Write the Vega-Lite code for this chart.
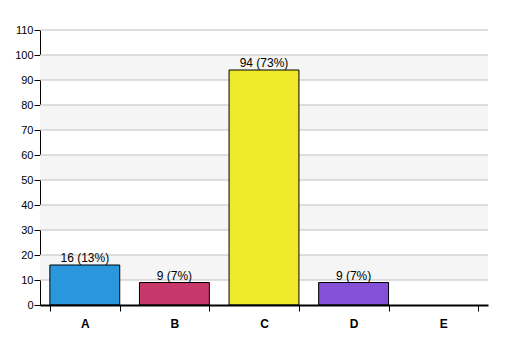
{
  "$schema": "https://vega.github.io/schema/vega-lite/v6.json",
  "width": 448,
  "height": 275,
  "autosize": "none",
  "padding": {"left": 40, "top": 30, "right": 19, "bottom": 51},
  "background": "white",
  "config": {
    "view": {"stroke": null},
    "font": "Liberation Sans"
  },
  "datasets": {
    "bars": [
      {"cat": "A", "value": 16, "label": "16 (13%)"},
      {"cat": "B", "value": 9, "label": "9 (7%)"},
      {"cat": "C", "value": 94, "label": "94 (73%)"},
      {"cat": "D", "value": 9, "label": "9 (7%)"},
      {"cat": "E", "value": 0, "label": ""}
    ],
    "stripes": [
      {"lo": 10, "hi": 20},
      {"lo": 30, "hi": 40},
      {"lo": 50, "hi": 60},
      {"lo": 70, "hi": 80},
      {"lo": 90, "hi": 100}
    ],
    "grid": [
      {"v": 10}, {"v": 20}, {"v": 30}, {"v": 40}, {"v": 50}, {"v": 60},
      {"v": 70}, {"v": 80}, {"v": 90}, {"v": 100}, {"v": 110}
    ]
  },
  "resolve": {"scale": {"y": "independent"}, "axis": {"y": "independent"}},
  "layer": [
    {
      "data": {"name": "stripes"},
      "mark": {"type": "rect", "color": "#f5f5f5"},
      "encoding": {
        "y": {
          "field": "lo", "type": "quantitative",
          "scale": {"domain": [0, 110], "nice": false},
          "axis": null
        },
        "y2": {"field": "hi"}
      }
    },
    {
      "data": {"name": "grid"},
      "mark": {"type": "rule", "color": "#c0c0c0", "strokeWidth": 1},
      "encoding": {
        "y": {
          "field": "v", "type": "ordinal",
          "scale": {"type": "point", "domain": [110,100,90,80,70,60,50,40,30,20,10,0], "padding": 0},
          "axis": {
            "orient": "left", "title": null, "labelAngle": 0,
            "labelFontSize": 11, "labelColor": "black", "domainColor": "black",
            "tickColor": "black", "tickSize": 6, "labelPadding": 1, "grid": false
          }
        }
      }
    },
    {
      "data": {"name": "bars"},
      "transform": [{"filter": "datum.value > 0"}],
      "mark": {"type": "bar", "stroke": "black", "strokeWidth": 1},
      "encoding": {
        "x": {
          "field": "cat", "type": "nominal",
          "scale": {"domain": ["A","B","C","D","E"], "paddingInner": 0.22, "paddingOuter": 0.11},
          "axis": {
            "title": null, "labelAngle": 0, "labelFontWeight": "bold", "labelFontSize": 12,
            "labelColor": "black", "domainColor": "black", "domainWidth": 2, "zindex": 1,
            "tickColor": "black", "tickBand": "extent", "tickSize": 6, "labelPadding": 7
          }
        },
        "y": {
          "field": "value", "type": "quantitative",
          "scale": {"domain": [0, 110], "nice": false},
          "axis": null
        },
        "fill": {
          "field": "cat", "type": "nominal", "legend": null,
          "scale": {"domain": ["A","B","C","D","E"], "range": ["#2a96dc", "#c6386a", "#eeea2a", "#8350d6", "#888888"]}
        }
      }
    },
    {
      "data": {"name": "bars"},
      "mark": {"type": "text", "baseline": "bottom", "dy": 0, "fontSize": 12, "color": "black"},
      "encoding": {
        "x": {"field": "cat", "type": "nominal"},
        "y": {
          "field": "value", "type": "quantitative",
          "scale": {"domain": [0, 110], "nice": false},
          "axis": null
        },
        "text": {"field": "label"}
      }
    }
  ]
}
